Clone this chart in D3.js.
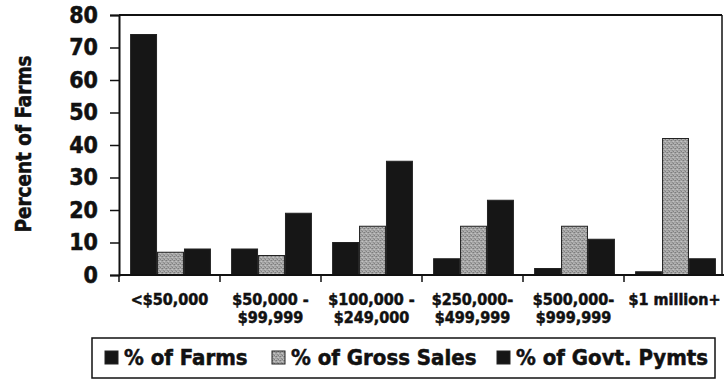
<!DOCTYPE html>
<html>
<head>
<meta charset="utf-8">
<script src="https://cdn.jsdelivr.net/npm/d3@7/dist/d3.min.js"></script>
<style>
  html, body { margin: 0; padding: 0; background: #fff; }
  svg { display: block; }
  text { font-family: "DejaVu Sans Condensed", "DejaVu Sans", sans-serif; font-weight: bold; fill: #111; stroke: #111; stroke-width: 0.5px; }
</style>
</head>
<body>
<svg id="chart" width="724" height="389"></svg>
<script>
// Farm sales classes
const categories = ["<$50,000", "$50,000 - $99,999", "$100,000 - $249,000", "$250,000- $499,999", "$500,000- $999,999", "$1 million+"];
const categoryLines = [["<$50,000"], ["$50,000 -", "$99,999"], ["$100,000 -", "$249,000"], ["$250,000-", "$499,999"], ["$500,000-", "$999,999"], ["$1 million+"]];
const seriesNames = ["% of Farms", "% of Gross Sales", "% of Govt. Pymts"];
const farms = [74, 8, 10, 5, 2, 1];
const grossSales = [7, 6, 15, 15, 15, 42];
const govtPayments = [8, 19, 35, 23, 11, 5];
const yTicks = [0, 10, 20, 30, 40, 50, 60, 70, 80];

const seriesValues = [farms, grossSales, govtPayments];
const rows = categories.map((c, i) => ({ cat: c, values: seriesValues.map((s, k) => ({ key: seriesNames[k], k, v: s[i] })) }));

const svg = d3.select("#chart");
const defs = svg.append("defs");

// speckled grey texture for the gross-sales bars
const pat = defs.append("pattern").attr("id", "speckle").attr("patternUnits", "userSpaceOnUse")
  .attr("width", 4).attr("height", 4);
pat.append("rect").attr("width", 4).attr("height", 4).attr("fill", "#a4a4a4");
const dots = [[0,0,"#7a7a7a"],[2,1,"#c4c4c4"],[1,2,"#8a8a8a"],[3,3,"#bdbdbd"],[3,0,"#909090"],[0,3,"#b0b0b0"],[2,3,"#7e7e7e"],[1,1,"#b8b8b8"]];
dots.forEach(d => pat.append("rect").attr("x", d[0]).attr("y", d[1]).attr("width", 1).attr("height", 1).attr("fill", d[2]));

const fills = ["#161616", "url(#speckle)", "#161616"];

const plotLeft = 119, plotRight = 725, plotTop = 15, plotBottom = 275;

const x = d3.scaleBand().domain(categories).range([plotLeft, plotRight]).paddingInner(0.2).paddingOuter(0.1).align(0.55);
const xi = d3.scaleBand().domain([0, 1, 2]).range([0, x.bandwidth()]);
const y = d3.scaleLinear().domain([0, 80]).range([plotBottom, plotTop]);

// plot frame: top and right edges
svg.append("line").attr("x1", plotLeft).attr("x2", 722).attr("y1", y(80)).attr("y2", y(80))
  .attr("stroke", "#111").attr("stroke-width", 2);
svg.append("line").attr("x1", 722).attr("x2", 722).attr("y1", y(80)).attr("y2", y(0))
  .attr("stroke", "#111").attr("stroke-width", 1.5);

// bars
const g = svg.append("g");
g.selectAll("g.cat").data(rows).join("g").attr("class", "cat")
  .attr("transform", d => `translate(${x(d.cat)},0)`)
  .selectAll("rect").data(d => d.values).join("rect")
  .attr("x", d => xi(d.k) + 0.5)
  .attr("y", d => y(d.v))
  .attr("width", xi.bandwidth() - 1)
  .attr("height", d => y(0) - y(d.v))
  .attr("fill", d => fills[d.k])
  .attr("stroke", "#222").attr("stroke-width", 1);

// y axis
const yAxis = d3.axisLeft(y).tickValues(yTicks).tickSize(9).tickPadding(12).tickFormat(d3.format("d"));
const ya = svg.append("g").attr("transform", `translate(${plotLeft},0)`).call(yAxis);
ya.select(".domain").attr("stroke", "#111").attr("stroke-width", 2);
ya.selectAll(".tick line").attr("stroke", "#111").attr("stroke-width", 1.5);
ya.selectAll(".tick text").attr("font-size", 23).attr("fill", "#111")
  .attr("font-family", "DejaVu Sans Condensed, DejaVu Sans, sans-serif").attr("font-weight", "bold");

// x axis with ticks at category boundaries
const boundaries = categories.map(c => x(c) - x.step() * x.paddingInner() * 0.55);
const xa = svg.append("g");
xa.append("line").attr("x1", plotLeft).attr("x2", 724).attr("y1", plotBottom).attr("y2", plotBottom)
  .attr("stroke", "#111").attr("stroke-width", 2);
xa.selectAll("line.tk").data(boundaries.concat([plotRight])).join("line").attr("class", "tk")
  .attr("x1", d => d).attr("x2", d => d).attr("y1", plotBottom).attr("y2", plotBottom + 7)
  .attr("stroke", "#111").attr("stroke-width", 1.5);

const lbl = xa.selectAll("text.cl").data(categories).join("text").attr("class", "cl")
  .attr("text-anchor", "middle").attr("font-size", 16)
  .attr("x", d => x(d) + x.bandwidth() / 2 - 1);
lbl.each(function(d, i) {
  const t = d3.select(this);
  categoryLines[i].forEach((line, j) => {
    t.append("tspan").attr("x", x(d) + x.bandwidth() / 2 - 1).attr("y", 305 + j * 18).text(line);
  });
});

// y title
svg.append("text").attr("transform", `translate(31,144) rotate(-90)`)
  .attr("text-anchor", "middle").attr("font-size", 20.5).text("Percent of Farms");

// legend
const lg = svg.append("g");
lg.append("rect").attr("x", 92).attr("y", 338).attr("width", 623).attr("height", 40)
  .attr("fill", "#fff").attr("stroke", "#111").attr("stroke-width", 1.5);
const legendX = [105, 272, 497];
seriesNames.forEach((name, k) => {
  lg.append("rect").attr("x", legendX[k]).attr("y", 351).attr("width", 13).attr("height", 13)
    .attr("fill", fills[k]).attr("stroke", "#222").attr("stroke-width", 1);
  lg.append("text").attr("x", legendX[k] + 19).attr("y", 365).attr("font-size", 22).text(name);
});
</script>
</body>
</html>
